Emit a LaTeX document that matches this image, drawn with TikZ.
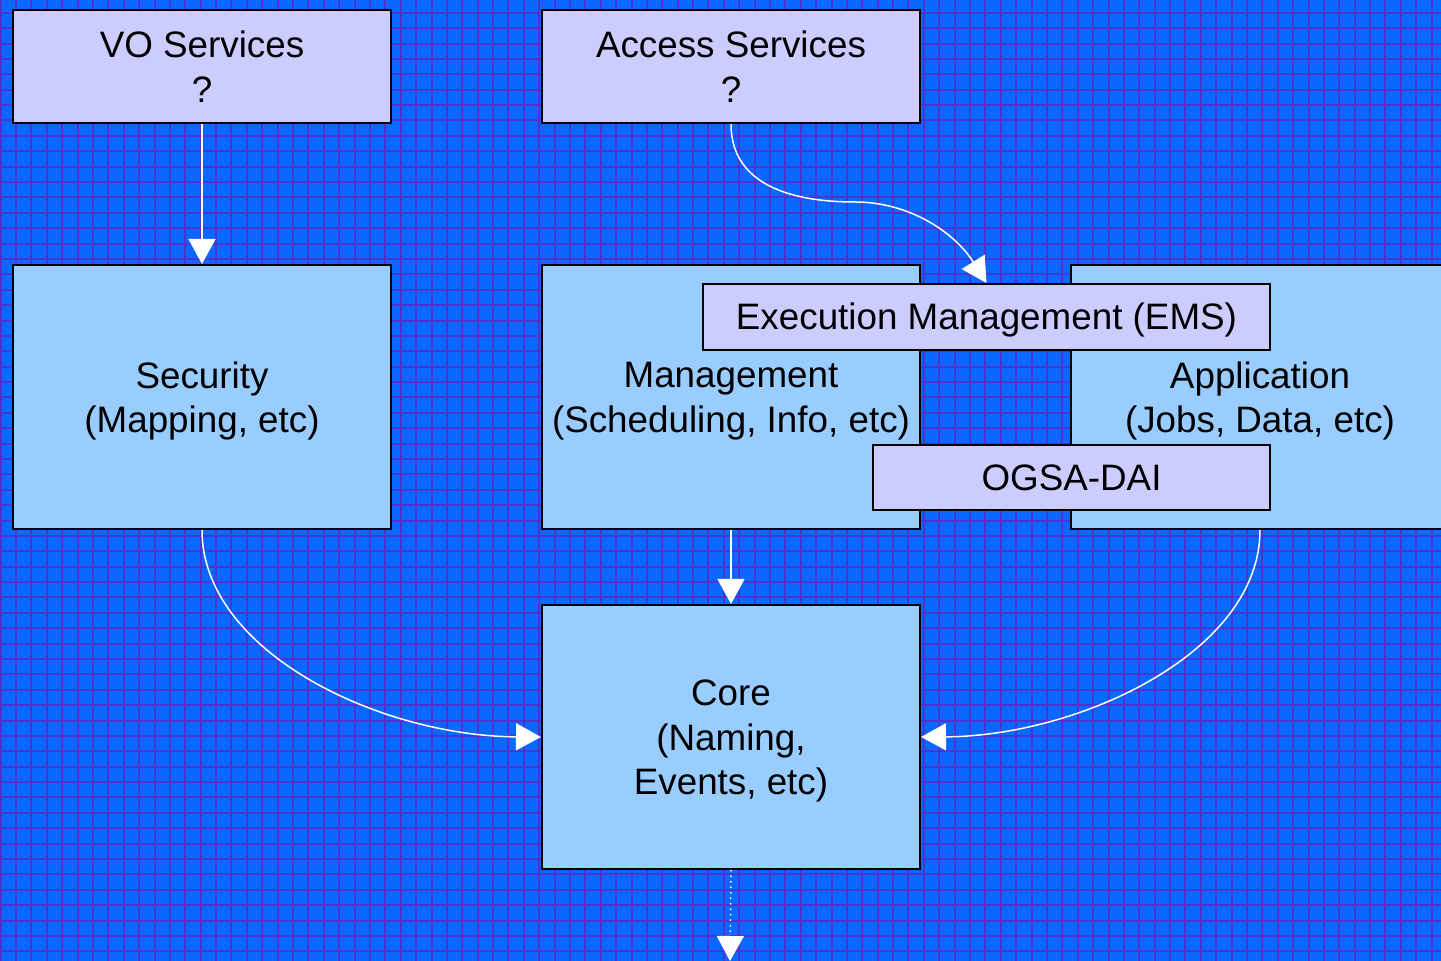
\documentclass[tikz,border=0pt]{standalone}
\usepackage{fontspec}
\setmainfont{Liberation Sans}
\usetikzlibrary{arrows.meta}
\definecolor{bgblue}{RGB}{8,104,255}
\definecolor{gridpurple}{RGB}{78,52,204}
\definecolor{lavender}{RGB}{204,204,255}
\definecolor{paleblue}{RGB}{153,204,255}
\begin{document}
\begin{tikzpicture}[x=0.5pt,y=-0.5pt,
  box/.style={draw=black,line width=1pt,anchor=north west,inner sep=0pt},
  topbox/.style={box,fill=lavender},
  layerbox/.style={box,fill=paleblue},
  txt/.style={inner sep=0pt,align=center,text=black,
    font=\fontsize{18.4}{22.4}\selectfont},
  flow/.style={draw=white,line width=0.75pt,
    -{Triangle[length=12.5pt,width=13.5pt]}}]
  % page and grid background
  \useasboundingbox (0,0) rectangle (1441,961);
  \fill[bgblue] (0,0) rectangle (1441,961);
  \begin{scope}[gridpurple,line width=1pt]
    \foreach \i in {0,...,93} \draw (0.7+\i*15.386,0) -- (0.7+\i*15.386,961);
    \foreach \j in {0,...,62} \draw (0,12.8+\j*15.386) -- (1441,12.8+\j*15.386);
  \end{scope}

  % service boxes
  \node[topbox,minimum width=189pt,minimum height=56.5pt] (vo) at (12,9) {};
  \node[txt] (votext) at (vo.center) {VO Services\\?};
  \node[topbox,minimum width=189pt,minimum height=56.5pt] (acc) at (541,9) {};
  \node[txt] (acctext) at (acc.center) {Access Services\\?};

  % layer boxes
  \node[layerbox,minimum width=189pt,minimum height=132pt] (sec) at (12,264) {};
  \node[txt] (sectext) at ([yshift=-2pt]sec.center) {Security\\(Mapping, etc)};
  \node[layerbox,minimum width=189pt,minimum height=132pt] (mgmt) at (541,264) {};
  \node[txt] (mgmttext) at ([yshift=-2pt]mgmt.center) {Management\\(Scheduling, Info, etc)};
  \node[layerbox,minimum width=189pt,minimum height=132pt] (app) at (1070,264) {};
  \node[txt] (apptext) at ([yshift=-2pt]app.center) {Application\\(Jobs, Data, etc)};
  \node[layerbox,minimum width=189pt,minimum height=132pt] (core) at (541,604) {};
  \node[txt] (coretext) at ([yshift=-2pt]core.center) {Core\\(Naming,\\Events, etc)};

  % overlapping component boxes
  \node[topbox,minimum width=283.5pt,minimum height=33pt] (ems) at (702,283) {};
  \node[txt] (emstext) at ([yshift=-1.3pt]ems.center) {Execution Management (EMS)};
  \node[topbox,minimum width=198.5pt,minimum height=32.5pt] (dai) at (872,444) {};
  \node[txt] (daitext) at (dai.center) {OGSA-DAI};

  % connectors
  \draw[flow] (vo.south) -- (sec.north);
  \draw[flow] (acc.south) .. controls +(0,60) and (790,202) .. (855,202)
              .. controls (910,202) and (955,233) .. (ems.north);
  \draw[flow] (mgmt.south) -- (core.north);
  \draw[flow] (sec.south) .. controls +(0,122) and (380,736) .. (core.west);
  \draw[flow] (app.south) .. controls +(0,122) and (1080,736) .. (core.east);
  \coordinate (out) at (730,961);
  \draw[flow,dotted] (core.south) -- (out);
\end{tikzpicture}
\end{document}
